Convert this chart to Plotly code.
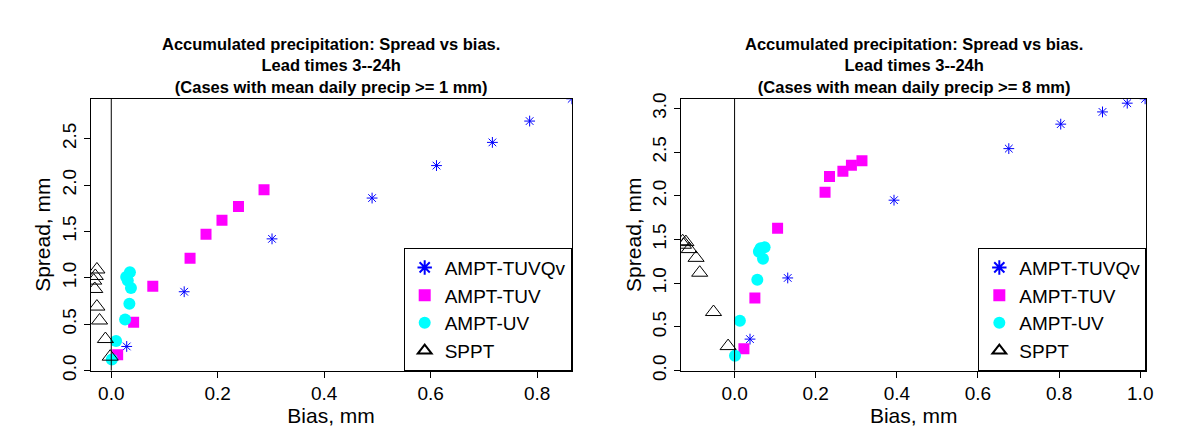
import plotly.graph_objects as go

# left panel (>= 1 mm)
l_tuvqv_x = [0.029, 0.137, 0.302, 0.49, 0.611, 0.716, 0.786, 0.865]
l_tuvqv_y = [0.26, 0.85, 1.42, 1.86, 2.21, 2.46, 2.69, 2.93]
l_tuv_x = [0.012, 0.042, 0.078, 0.148, 0.178, 0.208, 0.239, 0.287]
l_tuv_y = [0.17, 0.52, 0.91, 1.21, 1.47, 1.62, 1.77, 1.95]
l_uv_x = [0.001, 0.009, 0.026, 0.034, 0.037, 0.031, 0.028, 0.035]
l_uv_y = [0.12, 0.32, 0.55, 0.72, 0.89, 0.97, 1.01, 1.06]
l_sppt_x = [-0.002, -0.011, -0.022, -0.027, -0.031, -0.033, -0.030, -0.027]
l_sppt_y = [0.15, 0.34, 0.54, 0.69, 0.88, 0.97, 1.02, 1.09]

# right panel (>= 8 mm)
r_tuvqv_x = [0.038, 0.131, 0.393, 0.676, 0.804, 0.907, 0.968, 1.012]
r_tuvqv_y = [0.36, 1.06, 1.95, 2.54, 2.82, 2.96, 3.06, 3.11]
r_tuv_x = [0.023, 0.050, 0.106, 0.223, 0.234, 0.267, 0.288, 0.314]
r_tuv_y = [0.25, 0.83, 1.63, 2.04, 2.22, 2.28, 2.35, 2.40]
r_uv_x = [0.001, 0.013, 0.056, 0.070, 0.061, 0.064, 0.074, 0.060]
r_uv_y = [0.17, 0.57, 1.04, 1.28, 1.37, 1.40, 1.41, 1.36]
r_sppt_x = [-0.016, -0.052, -0.086, -0.095, -0.112, -0.120, -0.126, -0.128]
r_sppt_y = [0.28, 0.67, 1.12, 1.29, 1.39, 1.47, 1.44, 1.48]

names = ["AMPT-TUVQv", "AMPT-TUV", "AMPT-UV", "SPPT"]
markers = [
    dict(symbol="asterisk-open", size=9, color="blue", line=dict(color="blue", width=1)),
    dict(symbol="square", size=11, color="magenta"),
    dict(symbol="circle", size=12, color="cyan"),
    dict(symbol="triangle-up-open", size=14, color="black", line=dict(color="black", width=1)),
]

fig = go.Figure()
left = [(l_tuvqv_x, l_tuvqv_y), (l_tuv_x, l_tuv_y), (l_uv_x, l_uv_y), (l_sppt_x, l_sppt_y)]
right = [(r_tuvqv_x, r_tuvqv_y), (r_tuv_x, r_tuv_y), (r_uv_x, r_uv_y), (r_sppt_x, r_sppt_y)]
for i in range(4):
    fig.add_trace(go.Scatter(x=left[i][0], y=left[i][1], mode="markers", name=names[i],
                             marker=markers[i], xaxis="x", yaxis="y", legend="legend"))
    fig.add_trace(go.Scatter(x=right[i][0], y=right[i][1], mode="markers", name=names[i],
                             marker=markers[i], xaxis="x2", yaxis="y2", legend="legend2"))

ax = dict(showgrid=False, zeroline=False, showline=True, linecolor="black", mirror=True,
          ticks="outside", ticklen=6, tickcolor="black", tickfont=dict(size=19, color="black"),
          title_font=dict(size=21, color="black"))
ybot = 71 / 441
ytop = 353 / 441
fig.update_layout(
    width=1200, height=441, paper_bgcolor="white", plot_bgcolor="white",
    font=dict(family="Liberation Sans, Arial", color="black"),
    margin=dict(l=0, r=0, t=0, b=0),
    xaxis=dict(ax, domain=[83 / 1200, 567 / 1200], range=[-0.039, 0.865], dtick=0.2,
               tickformat=".1f", title=dict(text="Bias, mm", standoff=2)),
    yaxis=dict(ax, domain=[ybot, ytop], range=[0, 2.93], dtick=0.5, tickformat=".1f",
               tickangle=-90, title=dict(text="Spread, mm", standoff=2)),
    xaxis2=dict(ax, domain=[677 / 1200, 1145 / 1200], range=[-0.132, 1.015], dtick=0.2,
                tickformat=".1f", anchor="y2", title=dict(text="Bias, mm", standoff=2)),
    yaxis2=dict(ax, domain=[ybot, ytop], range=[0, 3.11], dtick=0.5, tickformat=".1f",
                tickangle=-90, anchor="x2", title=dict(text="Spread, mm", standoff=2)),
    legend=dict(x=567 / 1200, xanchor="right", y=ybot, yanchor="bottom", bordercolor="black",
                borderwidth=1, bgcolor="white", font=dict(size=19), itemsizing="constant",
                tracegroupgap=0),
    legend2=dict(x=1145 / 1200, xanchor="right", y=ybot, yanchor="bottom", bordercolor="black",
                 borderwidth=1, bgcolor="white", font=dict(size=19), itemsizing="constant"),
)
for xr, yr in (("x", "y"), ("x2", "y2")):
    fig.add_shape(type="line", xref=xr, yref=yr + " domain", x0=0, x1=0, y0=0, y1=1,
                  line=dict(color="black", width=1))

titles = ["Accumulated precipitation: Spread vs bias.<br>Lead times 3--24h<br>(Cases with mean daily precip >= 1 mm)",
          "Accumulated precipitation: Spread vs bias.<br>Lead times 3--24h<br>(Cases with mean daily precip >= 8 mm)"]
for cx, t in zip([325 / 1200, 911 / 1200], titles):
    fig.add_annotation(text="<b>" + t + "</b>", x=cx, y=1 - 20 / 441, xref="paper", yref="paper",
                       xanchor="center", yanchor="top", showarrow=False,
                       font=dict(size=16.5, color="black"))

fig.write_html("out.html")
